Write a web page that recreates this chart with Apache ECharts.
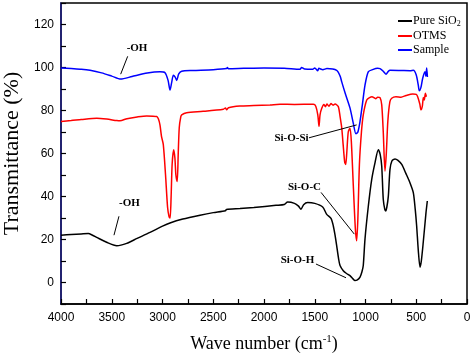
<!DOCTYPE html>
<html>
<head>
<meta charset="utf-8">
<script src="https://cdn.jsdelivr.net/npm/echarts@6/dist/echarts.min.js"></script>
<style>
  html, body { margin: 0; padding: 0; background: #fff; }
  #chart { width: 472px; height: 356px; }
</style>
</head>
<body>
<div id="chart"></div>
<script>
// 数据：[波数 cm-1, 透过率 %]
const pureSiO2 = [
  [4000, 22], [3900, 22.3], [3800, 22.6], [3731, 22.8], [3690, 22], [3648, 21],
  [3550, 18.7], [3451, 17.1], [3400, 17.5], [3353, 18.2], [3250, 20.5], [3123, 23.3],
  [3000, 26.2], [2926, 27.7], [2800, 29.5], [2630, 31.3], [2500, 32.5], [2380, 33.4],
  [2370, 34], [2236, 34.4], [2100, 34.9], [1882, 35.9], [1800, 36.3], [1767, 37.4],
  [1700, 36.8], [1660, 35.5], [1636, 34.1], [1610, 36.2], [1570, 37.2], [1500, 36.8],
  [1422, 35.1], [1382, 31.7], [1340, 29.8], [1317, 26.3], [1300, 22], [1284, 17.1],
  [1265, 11], [1251, 7.9], [1219, 5.5], [1190, 4.3], [1153, 3.2], [1125, 1.8],
  [1104, 0.9], [1080, 1.2], [1054, 2.5], [1035, 5], [1022, 7.9], [1005, 20.2],
  [972, 35.6], [939, 47.9], [905, 56], [874, 61.8], [855, 59.5], [840, 54.1],
  [825, 38.7], [810, 34], [801, 33.3], [790, 35], [775, 40.2], [759, 52.5],
  [740, 56.5], [709, 57.5], [680, 56.8], [643, 54.9], [600, 50.5], [562, 46.4],
  [529, 41.8], [510, 34], [496, 26.3], [480, 15], [463, 7.1], [450, 10],
  [431, 18.7], [404, 32.5], [391, 37.9]
];

const otms = [
  [4000, 74.9], [3900, 75.3], [3800, 75.8], [3648, 76.4], [3550, 76], [3450, 75.3],
  [3419, 75.2], [3350, 76.2], [3250, 77], [3156, 77.5], [3057, 77.2], [3040, 76],
  [3025, 73.3], [3010, 68], [2992, 64.1], [2970, 50], [2950, 35], [2935, 30.5],
  [2925, 30], [2915, 40], [2905, 55], [2890, 61.8], [2878, 58], [2868, 50],
  [2855, 47], [2845, 60], [2835, 72], [2820, 77], [2811, 78], [2762, 79],
  [2600, 79.6], [2400, 80.6], [2380, 81.2], [2368, 80.3], [2350, 81.3], [2237, 82.1],
  [2100, 82.3], [1941, 82.6], [1842, 82.9], [1700, 82.8], [1514, 82.9], [1490, 82],
  [1470, 78], [1458, 72.6], [1448, 78], [1431, 81], [1410, 82.8], [1395, 81.8],
  [1380, 83], [1360, 82], [1340, 83.2], [1320, 82.5], [1300, 83], [1268, 81.8],
  [1250, 77], [1234, 71.8], [1220, 64], [1205, 56], [1195, 54.9], [1185, 60],
  [1170, 70], [1153, 71.8], [1140, 66], [1120, 45], [1100, 25], [1087, 19.4],
  [1075, 30], [1060, 55], [1040, 70], [1022, 78], [988, 84.9], [960, 86],
  [936, 86.4], [900, 85.5], [880, 86.2], [857, 86], [840, 82.6], [825, 70],
  [808, 51.8], [795, 60], [780, 75], [760, 84], [742, 85.7], [700, 86.4],
  [650, 86.2], [600, 87], [535, 87.7], [500, 87.5], [486, 86.4], [465, 83],
  [453, 80.3], [440, 82], [430, 86], [421, 84.9], [410, 88], [400, 86.4]
];

const sample = [
  [4000, 99.8], [3900, 99.5], [3800, 99.2], [3714, 98.7], [3600, 97.5], [3500, 96],
  [3412, 94.6], [3300, 95.8], [3150, 97.4], [3025, 98], [2975, 97.6], [2945, 94],
  [2926, 89.5], [2910, 93], [2893, 96.4], [2875, 95.5], [2860, 94], [2840, 97],
  [2811, 98.3], [2700, 98.6], [2500, 99], [2370, 99.5], [2360, 100], [2350, 99.4],
  [2200, 99.6], [2000, 99.8], [1800, 99.7], [1645, 99.2], [1630, 100], [1600, 99.3],
  [1520, 99.2], [1500, 99.8], [1470, 98.5], [1460, 99.6], [1420, 99], [1380, 99.5],
  [1284, 98.7], [1250, 96], [1234, 93.3], [1200, 88], [1153, 81.2], [1120, 74],
  [1094, 69.2], [1075, 70], [1054, 74.9], [1030, 83], [1005, 91.8], [973, 98],
  [930, 99], [880, 99.6], [857, 99.5], [830, 98.5], [798, 96.9], [775, 98.2],
  [759, 98.7], [650, 98.6], [560, 98.5], [529, 98.7], [500, 96.5], [480, 91.8],
  [470, 89.2], [455, 90.5], [437, 94.9], [414, 98], [405, 96], [397, 99.8], [390, 95.6]
];

// 标注：文字位置与引线两端（数据坐标）
const notes = [
  { text: '-OH',     at: [3251, 108.9], from: [3412, 96.9], to: [3343, 105.2] },
  { text: '-OH',     at: [3325, 36.8],  from: [3478, 22.0], to: [3429, 30.8] },
  { text: 'Si-O-Si', at: [1729, 67.3],  from: [1557, 67.3], to: [1087, 73.3] },
  { text: 'Si-O-C',  at: [1601, 44.2],  from: [1438, 41.9], to: [1110, 22.5] },
  { text: 'Si-O-H',  at: [1670, 10.5],  from: [1488, 8.6],  to: [1192, 2.2] }
];

const serif = '"Liberation Serif", "Times New Roman", serif';
const sans = '"Liberation Sans", Arial, sans-serif';

const chart = echarts.init(document.getElementById('chart'));

function lineSeries(name, data, color) {
  return {
    name: name, type: 'line', data: data, smooth: 0.25,
    showSymbol: false, symbol: 'none',
    lineStyle: { color: color, width: 1.5 }, itemStyle: { color: color }
  };
}

chart.setOption({
  animation: false,
  grid: {
    left: 61, right: 5, top: 3, bottom: 52, outerBoundsMode: 'none', containLabel: false,
    show: true, borderColor: '#000', borderWidth: 1.5
  },
  legend: {
    orient: 'vertical', left: 393, top: 10, itemGap: 2,
    icon: 'rect', itemWidth: 14, itemHeight: 2,
    textStyle: {
      fontFamily: serif, fontSize: 12, color: '#000', padding: [0, 0, 0, -4],
      rich: {
        n: { fontFamily: serif, fontSize: 12, color: '#000' },
        s: { fontFamily: serif, fontSize: 8, color: '#000', padding: [6, 0, 0, 0] }
      }
    },
    formatter: function (name) {
      return name === 'Pure SiO2' ? '{n|Pure SiO}{s|2}' : '{n|' + name + '}';
    },
    data: ['Pure SiO2', 'OTMS', 'Sample']
  },
  xAxis: {
    type: 'value', inverse: true, min: 0, max: 4000, interval: 250,
    axisLine: { onZero: false, lineStyle: { color: '#000', width: 1.5 } },
    axisTick: { inside: true, length: 5, lineStyle: { color: '#000', width: 1.2 } },
    axisLabel: {
      fontFamily: sans, fontSize: 12, color: '#000', margin: 8,
      formatter: function (v) { return v % 500 === 0 ? String(v) : ''; }
    },
    splitLine: { show: false },
    name: '{n|Wave number (cm}{s|-1}{n|)}', nameLocation: 'middle', nameGap: 30,
    nameTextStyle: {
      rich: {
        n: { fontFamily: serif, fontSize: 18, color: '#000' },
        s: { fontFamily: serif, fontSize: 11, color: '#000', padding: [0, 0, 9, 0] }
      }
    }
  },
  yAxis: {
    type: 'value', min: -10, max: 130, interval: 10,
    axisLine: { onZero: false, lineStyle: { color: '#1a1a80', width: 1.5 } },
    axisTick: { inside: true, length: 5, lineStyle: { color: '#000', width: 1.2 } },
    axisLabel: {
      fontFamily: sans, fontSize: 12, color: '#000', margin: 7,
      formatter: function (v) { return (v % 20 === 0 && v >= 0 && v <= 120) ? String(v) : ''; }
    },
    splitLine: { show: false },
    name: 'Transmittance (%)', nameLocation: 'middle', nameGap: 38,
    nameTextStyle: { fontFamily: serif, fontSize: 22, color: '#000' }
  },
  series: [
    lineSeries('Pure SiO2', pureSiO2, '#000000'),
    lineSeries('OTMS', otms, '#ff0000'),
    lineSeries('Sample', sample, '#0000ff')
  ]
});

// 标注文字与引线
function drawNotes() {
  const els = [];
  notes.forEach(function (n) {
    const p = chart.convertToPixel({ gridIndex: 0 }, n.at);
    const a = chart.convertToPixel({ gridIndex: 0 }, n.from);
    const b = chart.convertToPixel({ gridIndex: 0 }, n.to);
    els.push({
      type: 'line', silent: true, z: 100,
      shape: { x1: a[0], y1: a[1], x2: b[0], y2: b[1] },
      style: { stroke: '#000', lineWidth: 1 }
    });
    els.push({
      type: 'text', silent: true, z: 100, x: p[0], y: p[1],
      style: {
        text: n.text, fill: '#000', align: 'center', verticalAlign: 'middle',
        font: 'bold 11px ' + serif
      }
    });
  });
  chart.setOption({ graphic: els });
}
drawNotes();
</script>
</body>
</html>
